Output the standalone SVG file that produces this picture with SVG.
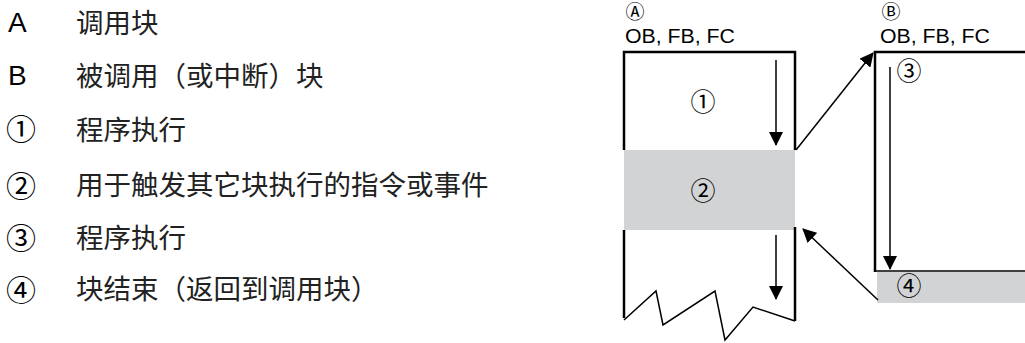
<svg xmlns="http://www.w3.org/2000/svg" width="1025" height="343" viewBox="0 0 1025 343">
<style>
.leg{font-family:"Liberation Sans","Noto Sans CJK SC",sans-serif;font-size:28px;fill:#000}
.cjk{font-family:"Noto Sans CJK SC",sans-serif;font-size:27.5px;fill:#222}
.num{font-family:"Noto Sans CJK SC",sans-serif;font-size:30px;fill:#000;text-anchor:middle}
.dn{font-family:"Noto Sans CJK SC",sans-serif;font-size:25px;fill:#000;text-anchor:middle}
.cl{font-family:"Noto Sans CJK SC",sans-serif;font-size:19px;fill:#000;text-anchor:middle}
.lab{font-family:"Liberation Sans",sans-serif;font-size:20px;fill:#000}
.wall{stroke:#000;stroke-width:2.5;fill:none}
.thin{stroke:#000;stroke-width:1.5;fill:none}
.arr{stroke:#000;stroke-width:1.5;fill:none;marker-end:url(#ah)}
.band{fill:#d2d3d5}
</style>
<defs>
<marker id="ah" markerUnits="userSpaceOnUse" markerWidth="14" markerHeight="14" viewBox="0 0 14 14" refX="13" refY="7" orient="auto">
<path d="M0,0 L14,7 L0,14 Z" fill="#000"/>
</marker>
</defs>
<g id="legend">
<text class="leg" x="8" y="32">A</text>
<text class="cjk" x="76" y="33">调用块</text>
<text class="leg" x="8" y="85">B</text>
<text class="cjk" x="76" y="86">被调用（或中断）块</text>
<text class="num" x="21" y="140">①</text>
<text class="cjk" x="76" y="140">程序执行</text>
<text class="num" x="21" y="197">②</text>
<text class="cjk" x="76" y="195">用于触发其它块执行的指令或事件</text>
<text class="num" x="21" y="249">③</text>
<text class="cjk" x="76" y="248">程序执行</text>
<text class="num" x="21" y="301">④</text>
<text class="cjk" x="76" y="299">块结束（返回到调用块）</text>
</g>
<g id="blockA">
<text class="cl" x="635" y="19">Ⓐ</text>
<text class="lab" x="625" y="43" textLength="110" lengthAdjust="spacingAndGlyphs">OB, FB, FC</text>
<rect class="band" x="624" y="150" width="171" height="80"/>
<path class="wall" d="M624,150 V52 H795 V150"/>
<path class="wall" d="M624,230 V318"/>
<path class="wall" d="M795,227 V321"/>
<path class="thin" d="M624,320 L656,291 L663,325 L715,291 L725,340 L753,307 L795,321"/>
<text class="dn" x="703" y="111">①</text>
<text class="dn" x="703" y="200">②</text>
<line class="arr" x1="776" y1="60" x2="776" y2="145"/>
<line class="arr" x1="776" y1="235" x2="776" y2="299"/>
</g>
<g id="blockB">
<text class="cl" x="891" y="19">Ⓑ</text>
<text class="lab" x="880" y="43" textLength="110" lengthAdjust="spacingAndGlyphs">OB, FB, FC</text>
<rect class="band" x="877" y="272" width="148" height="31"/>
<path class="wall" d="M1025,52 H875 V272"/>
<line class="thin" x1="875" y1="271" x2="1025" y2="271"/>
<text class="dn" x="909" y="80">③</text>
<text class="dn" x="909" y="295">④</text>
<line class="arr" x1="890" y1="67" x2="890" y2="269"/>
</g>
<g id="connectors">
<line class="arr" x1="796" y1="150" x2="873" y2="53"/>
<line class="arr" x1="878" y1="300" x2="803" y2="229"/>
</g>
</svg>
